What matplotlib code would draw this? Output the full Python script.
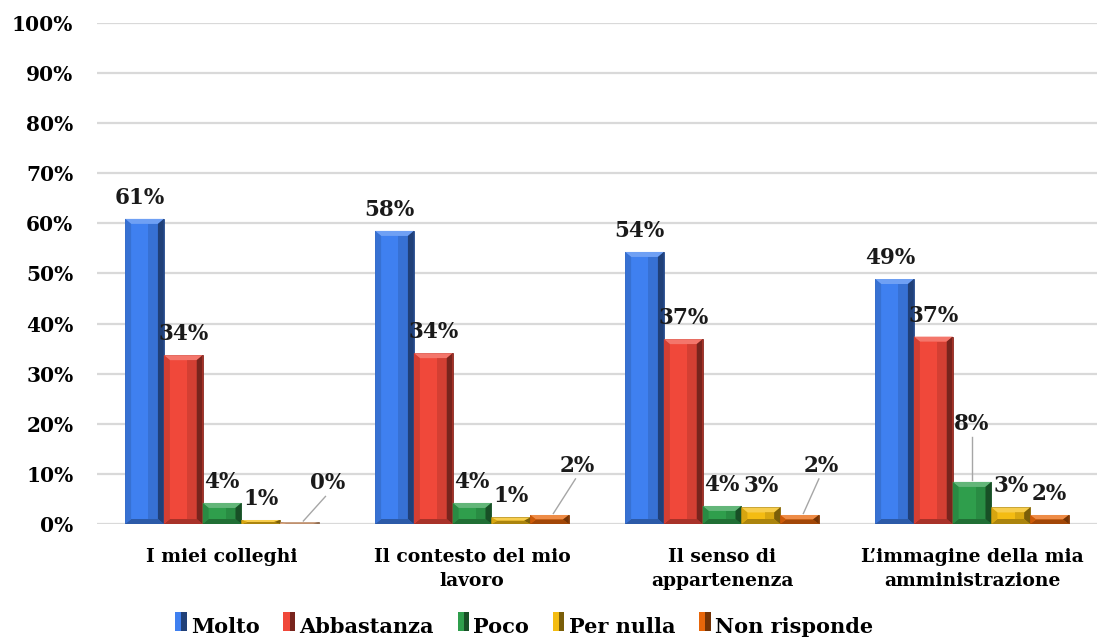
import matplotlib
matplotlib.use("Agg")
import matplotlib.pyplot as plt
import numpy as np
from matplotlib.patches import Polygon, Rectangle
from matplotlib.legend_handler import HandlerBase
from matplotlib.colors import to_rgb

categories = ["I miei colleghi", "Il contesto del mio\nlavoro",
              "Il senso di\nappartenenza", "L\u2019immagine della mia\namministrazione"]
series = ["Molto", "Abbastanza", "Poco", "Per nulla", "Non risponde"]

molto = [60.9, 58.5, 54.3, 48.9]
abbastanza = [33.7, 34.1, 36.9, 37.4]
poco = [4.2, 4.2, 3.6, 8.4]
per_nulla = [0.8, 1.3, 3.3, 3.3]
non_risponde = [0.3, 1.8, 1.8, 1.8]
values = [molto, abbastanza, poco, per_nulla, non_risponde]

colors = ["#3F80F0", "#F0483A", "#2F9E4C", "#F4BC12", "#E8660A"]
# near-zero bar in the first group is drawn faded
faded = {(4, 0): "#F7B98C"}

# label offsets (dx in bar widths, dy in %) and whether a leader line is drawn
label_shift = {
    (4, 0): (0.72, 5.6, True),
    (4, 1): (0.72, 7.6, True),
    (4, 2): (0.55, 7.6, True),
    (2, 3): (0.0, 9.4, True),
}

FONT = "DejaVu Serif"
fig = plt.figure(figsize=(11.05, 6.37), dpi=100, facecolor="white")
ax = fig.add_axes([97 / 1105, 1 - 524 / 637, 1000 / 1105, 501 / 637])
ax.set_xlim(-0.5, 3.5)
ax.set_ylim(0, 100)

bw = 0.155
x = np.arange(len(categories))
px_x = 1.0 / 250  # data units per pixel, horizontal
px_y = 100.0 / 501  # data units per pixel, vertical


def shade(c, f):
    r, g, b = to_rgb(c)
    if f >= 1:
        return tuple(min(1, v + (1 - v) * (f - 1)) for v in (r, g, b))
    return tuple(v * f for v in (r, g, b))


def bevel_bar(ax, x0, w, h, color):
    bx = 6 * px_x
    by = min(5 * px_y, h / 2)
    ax.bar(x0 + w / 2, h, width=w, color=color, edgecolor=shade(color, 0.55),
           linewidth=0.6, zorder=3)
    faces = [
        ([(x0, h), (x0 + w, h), (x0 + w - bx, h - by), (x0 + bx, h - by)], shade(color, 1.25)),
        ([(x0, 0), (x0 + w, 0), (x0 + w - bx, by), (x0 + bx, by)], shade(color, 0.7)),
        ([(x0, 0), (x0 + bx, by), (x0 + bx, h - by), (x0, h)], shade(color, 0.88)),
        ([(x0 + w, 0), (x0 + w - bx, by), (x0 + w - bx, h - by), (x0 + w, h)], shade(color, 0.5)),
    ]
    for pts, fc in faces:
        ax.add_patch(Polygon(pts, closed=True, facecolor=fc, edgecolor="none", zorder=4))
    ax.add_patch(Rectangle((x0 + w * 0.6, by), w * 0.4 - bx, max(h - 2 * by, 0),
                           facecolor=shade(color, 0.75), edgecolor="none", alpha=0.45, zorder=4))


for si, vals in enumerate(values):
    for ci, v in enumerate(vals):
        x0 = x[ci] - 2.5 * bw + si * bw
        col = faded.get((si, ci), colors[si])
        bevel_bar(ax, x0, bw, v, col)
        xc = x0 + bw / 2
        dx, dy, lead = label_shift.get((si, ci), (0.0, 2.0, False))
        if si == 0:
            dx = -0.12
        tx, ty = xc + dx * bw, v + dy
        if lead:
            if dx:
                ax.plot([xc + 0.1 * bw, tx - 0.05 * bw], [v + 0.3, ty - 0.4],
                        color="#A6A6A6", lw=1.0, zorder=5)
            else:
                ax.plot([xc, xc], [v + 0.3, ty - 0.4], color="#A6A6A6", lw=1.0, zorder=5)
        ax.text(tx, ty, f"{v:.0f}%", ha="center", va="bottom", fontsize=15.5,
                fontweight="bold", family=FONT, color="#1a1a1a", zorder=6)

ax.set_yticks(np.arange(0, 101, 10))
ax.set_yticklabels([f"{t}%" for t in range(0, 101, 10)], fontsize=14.5,
                   fontweight="bold", family=FONT)
ax.set_xticks(x)
ax.set_xticklabels(categories, fontsize=13.5, fontweight="bold", family=FONT,
                   linespacing=1.45)
ax.tick_params(axis="both", length=0)
ax.tick_params(axis="y", pad=17)
ax.tick_params(axis="x", pad=17)
ax.grid(axis="y", color="#D9D9D9", linewidth=1.6, zorder=0)
ax.set_axisbelow(True)
for s in ax.spines.values():
    s.set_visible(False)


class BevelHandle(HandlerBase):
    def create_artists(self, legend, orig, xd, yd, width, height, fontsize, trans):
        c = orig.get_facecolor()
        r1 = Rectangle((xd, yd), width, height, facecolor=c, edgecolor="none", transform=trans)
        r2 = Rectangle((xd + width * 0.55, yd), width * 0.45, height,
                       facecolor=shade(c, 0.5), edgecolor="none", transform=trans)
        return [r1, r2]


handles = [Rectangle((0, 0), 1, 1, facecolor=c) for c in colors]
fig.legend(handles, series, loc="center", bbox_to_anchor=(524 / 1105, 1 - 627 / 637),
           ncol=5, frameon=False, handler_map={Rectangle: BevelHandle()},
           prop={"family": FONT, "weight": "bold", "size": 15},
           handlelength=0.55, handleheight=1.0, handletextpad=0.2, columnspacing=1.15)

fig.savefig("out.png", dpi=100, facecolor="white")
